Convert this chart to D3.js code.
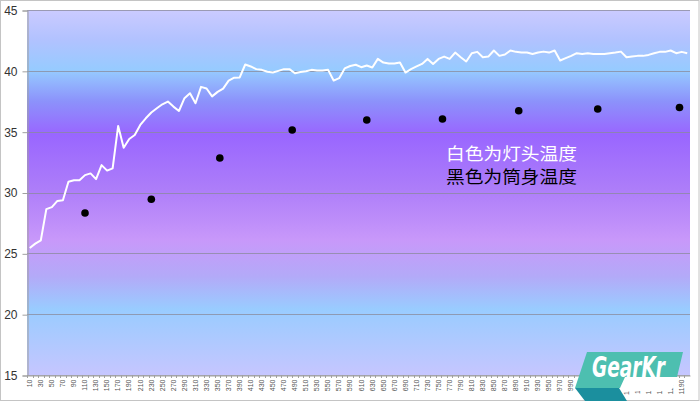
<!DOCTYPE html>
<html>
<head>
<meta charset="utf-8">
<script src="https://cdn.jsdelivr.net/npm/d3@7"></script>
<style>
html,body{margin:0;padding:0;background:#fff;}
svg{display:block;}
</style>
</head>
<body>
<svg id="chart" width="700" height="401"></svg>
<script>
// ---- data ----
const categories = [10,20,30,40,50,60,70,80,90,100,110,120,130,140,150,160,170,180,190,200,
210,220,230,240,250,260,270,280,290,300,310,320,330,340,350,360,370,380,390,400,
410,420,430,440,450,460,470,480,490,500,510,520,530,540,550,560,570,580,590,600,
610,620,630,640,650,660,670,680,690,700,710,720,730,740,750,760,770,780,790,800,
810,820,830,840,850,860,870,880,890,900,910,920,930,940,950,960,970,980,990,1000,
1010,1020,1030,1040,1050,1060,1070,1080,1090,1100,1110,1120,1130,1140,1150,1160,1170,1180,1190,1200];
const headTemp = [25.44,25.8,26.07,28.63,28.8,29.31,29.37,30.88,31.0,31.0,
31.43,31.57,31.1,32.25,31.8,31.98,35.47,33.68,34.4,34.73,
35.55,36.1,36.57,36.92,37.25,37.47,37.06,36.7,37.75,38.16,
37.34,38.68,38.55,37.9,38.27,38.54,39.2,39.44,39.46,40.52,
40.36,40.14,40.08,39.92,39.86,40.0,40.14,40.14,39.8,39.9,
39.97,40.08,40.03,40.03,40.08,39.2,39.4,40.2,40.4,40.5,
40.3,40.44,40.27,40.98,40.68,40.6,40.6,40.68,39.86,40.14,
40.36,40.57,40.98,40.57,40.98,41.17,40.98,41.5,41.12,40.77,
41.45,41.56,41.12,41.17,41.67,41.23,41.34,41.67,41.56,41.5,
41.5,41.39,41.5,41.58,41.5,41.67,40.85,41.04,41.23,41.45,
41.39,41.45,41.39,41.39,41.39,41.45,41.5,41.58,41.12,41.17,
41.23,41.23,41.31,41.45,41.56,41.56,41.67,41.45,41.56,41.45];
const bodyTimes = [110,230,354,485,620,757,895,1038,1186];
const bodyTemp = [28.32,29.45,32.83,35.14,35.96,36.04,36.72,36.86,36.99];
const yTicks = [15,20,25,30,35,40,45];
const xLabels = categories.filter((c,i)=>i%2===0);
const legendLines = ["白色为灯头温度","黑色为筒身温度"];

// ---- layout ----
const W=700,H=401;
const plot={left:27,right:690,top:10,bottom:375};
const svg=d3.select("#chart");

svg.append("rect").attr("x",0.5).attr("y",0.5).attr("width",W-1.5).attr("height",H-1)
  .attr("fill","#fff").attr("stroke","#c4c4c4");

const x=d3.scaleBand().domain(categories).range([plot.left,plot.right]).padding(0);
const xt=d3.scaleLinear().domain([5,1205]).range([plot.left,plot.right]);
const y=d3.scaleLinear().domain([15,45]).range([plot.bottom,plot.top]);

// gradient
const defs=svg.append("defs");
const grad=defs.append("linearGradient").attr("id","bg").attr("gradientUnits","userSpaceOnUse")
  .attr("x1",0).attr("y1",plot.top).attr("x2",0).attr("y2",plot.bottom);
[[0,"#cbcbff"],[0.08,"#b2c2ff"],[0.165,"#96cbff"],[0.25,"#8c92fb"],[0.34,"#9966ff"],
 [0.49,"#ad7df9"],[0.63,"#c898fa"],[0.73,"#b3aaf8"],[0.82,"#99ccff"],[1,"#c6c6ff"]]
 .forEach(s=>grad.append("stop").attr("offset",s[0]).attr("stop-color",s[1]));

svg.append("rect").attr("x",plot.left).attr("y",plot.top)
  .attr("width",plot.right-plot.left).attr("height",plot.bottom-plot.top).attr("fill","url(#bg)");

// gridlines
svg.append("g").selectAll("line").data(yTicks).join("line")
  .attr("x1",plot.left).attr("x2",plot.right)
  .attr("y1",d=>Math.round(y(d))+0.5).attr("y2",d=>Math.round(y(d))+0.5)
  .attr("stroke","#8a8a9a").attr("stroke-opacity",0.75).attr("stroke-width",1);

// y axis
const yAxis=d3.axisLeft(y).tickValues(yTicks).tickSize(5).tickPadding(5);
const gy=svg.append("g").attr("transform",`translate(${plot.left+0.5},0.5)`).call(yAxis);
gy.select(".domain").attr("stroke","#a0a0a0");
gy.selectAll(".tick line").attr("stroke","#a0a0a0");
gy.selectAll(".tick text").attr("font-family","'Liberation Sans', Arial, sans-serif")
  .attr("font-size",12).attr("fill","#333");

// x axis
const xAxis=d3.axisBottom(x).tickValues(xLabels).tickSize(0).tickPadding(0);
const gx=svg.append("g").attr("transform",`translate(0,${plot.bottom+0.5})`).call(xAxis);
gx.select(".domain").attr("stroke","#a0a0a0");
gx.selectAll(".tick text").attr("font-family","'Liberation Sans', Arial, sans-serif")
  .attr("font-size",7).attr("fill","#555")
  .attr("transform","rotate(-90)").attr("text-anchor","end")
  .attr("x",-4).attr("y",0).attr("dy","0.32em");
// category boundary tick marks
svg.append("g").selectAll("line").data(categories).join("line")
  .attr("x1",d=>Math.round(x(d))+0.5).attr("x2",d=>Math.round(x(d))+0.5)
  .attr("y1",plot.bottom).attr("y2",plot.bottom+3)
  .attr("stroke","#a0a0a0");

// white line
const line=d3.line().x((d,i)=>x(categories[i])+x.bandwidth()/2).y(d=>y(d));
svg.append("path").datum(headTemp).attr("d",line).attr("fill","none")
  .attr("stroke","#fff").attr("stroke-width",2).attr("stroke-linejoin","round");

// black dots
svg.append("g").selectAll("circle").data(bodyTemp).join("circle")
  .attr("cx",(d,i)=>xt(bodyTimes[i])).attr("cy",d=>y(d)).attr("r",3.8).attr("fill","#000");

// legend text
svg.append("g").selectAll("text").data(legendLines).join("text")
  .attr("x",446).attr("y",(d,i)=>160+i*22.5)
  .attr("font-family","'Liberation Sans','Noto Sans CJK SC', sans-serif").attr("font-size",17.5)
  .attr("textLength",131).attr("lengthAdjust","spacingAndGlyphs")
  .attr("fill",(d,i)=>i===0?"#fff":"#000").text(d=>d);

// logo
const logo=svg.append("g");
logo.append("polygon").attr("points","621,377 678,377 671,391 617,391").attr("fill","#fff");
logo.append("polygon").attr("points","575,388 619,388 627,401 585,401").attr("fill","#1b8f9e");
logo.append("polygon").attr("points","587,352 683,352 677,377 625,377 620,388 575,388").attr("fill","#4dbfb0");
logo.append("text").attr("x",592).attr("y",377)
  .attr("font-family","'DejaVu Sans Condensed','Liberation Sans Narrow',sans-serif")
  .attr("font-weight","bold").attr("font-style","italic").attr("font-size",28)
  .attr("fill","#fff").attr("textLength",73).attr("lengthAdjust","spacingAndGlyphs").text("GearKr");
</script>
</body>
</html>
